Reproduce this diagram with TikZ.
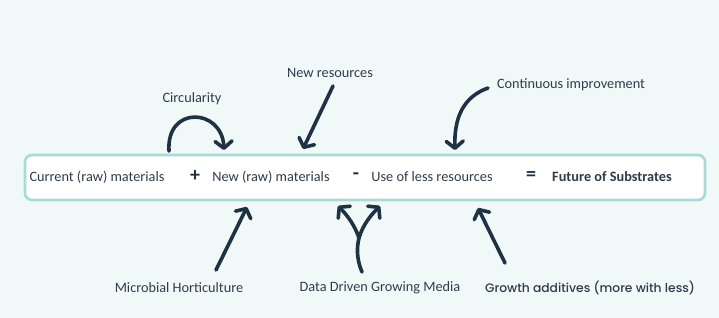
\documentclass[tikz,border=0pt]{standalone}
\usepackage{fontspec}
\setmainfont{Carlito}
\IfFontExistsTF{Poppins Medium}{\newfontfamily\growthfont{Poppins Medium}}{\newfontfamily\growthfont{Poppins}}
\usetikzlibrary{arrows.meta}
\definecolor{bgc}{HTML}{F1F8F8}
\definecolor{boxline}{HTML}{A8DAD6}
\definecolor{txt}{HTML}{2E3D4C}
\definecolor{arr}{HTML}{1E3244}
\tikzset{
  lbl/.style={text=txt, font=\fontsize{14.3}{16}\selectfont, inner sep=0pt, anchor=center},
  op/.style={text=arr, font=\fontsize{20}{22}\selectfont\bfseries, inner sep=0pt},
  bigarrow/.style={draw=arr, line width=3.6pt, line cap=round, line join=round,
    -{Straight Barb[length=7pt,width=17pt,line cap=round,line join=round]}},
  fork/.style={draw=arr, line width=3.6pt, line cap=round, line join=round}
}
\begin{document}
\begin{tikzpicture}[x=1pt,y=-1pt]
\fill[bgc] (0,0) rectangle (719,318);
\useasboundingbox (0,0) rectangle (719,318);
% main box
\node[draw=boxline, fill=white, line width=2.6pt, rounded corners=7pt,
  minimum width=680pt, minimum height=45pt, inner sep=0pt] (box) at (365,177.5) {};
\node[lbl] (cur) at (97,177) {Current (raw) materials};
\node[op] (plus) at (195,176) {+};
\node[lbl] (new) at (271,177) {New (raw) materials};
\node[op] (minus) at (356,176) {-};
\node[lbl] (less) at (432,177) {Use of less resources};
\node[op] (eq) at (531,176) {=};
\node[lbl, font=\fontsize{14.3}{16}\selectfont\bfseries] (fut) at (612,177) {Future of Substrates};
% labels
\node[lbl] (circ) at (192,99) {Circularity};
\node[lbl] (newres) at (330,73) {New resources};
\node[lbl] (cont) at (571,85) {Continuous improvement};
\node[lbl] (micro) at (179,288) {Microbial Horticulture};
\node[lbl] (data) at (380,288) {Data Driven Growing Media};
\node[text=txt, inner sep=0pt, font=\growthfont\fontsize{12.3}{14}\selectfont] (grow) at (590,288) {Growth additives (more with less)};
% coordinates
\coordinate (c1s) at (169,151);
\coordinate (c1e) at (224,150);
\coordinate (nrs) at (333,86);
\coordinate (nre) at (303,149);
\coordinate (cis) at (488,88);
\coordinate (cie) at (455,150);
\coordinate (mhs) at (216,270);
\coordinate (mhe) at (247,207);
\coordinate (dds) at (362,272);
\coordinate (ddj) at (359,238);
\coordinate (ddl) at (338,206);
\coordinate (ddr) at (380,206);
\coordinate (gas) at (505,263);
\coordinate (gae) at (478,208);
% arrows
\draw[bigarrow] (c1s) .. controls (166,105) and (222,108) .. (c1e);
\draw[bigarrow] (nrs) -- (nre);
\draw[bigarrow] (cis) .. controls (463,97) and (454,118) .. (cie);
\draw[bigarrow] (mhs) -- (mhe);
\draw[fork] (dds) .. controls (356,258) and (357,246) .. (ddj);
\draw[bigarrow] (ddj) .. controls (355,226) and (348,216) .. (ddl);
\draw[bigarrow] (ddj) .. controls (363,224) and (372,214) .. (ddr);
\draw[bigarrow] (gas) -- (gae);
\end{tikzpicture}
\end{document}
